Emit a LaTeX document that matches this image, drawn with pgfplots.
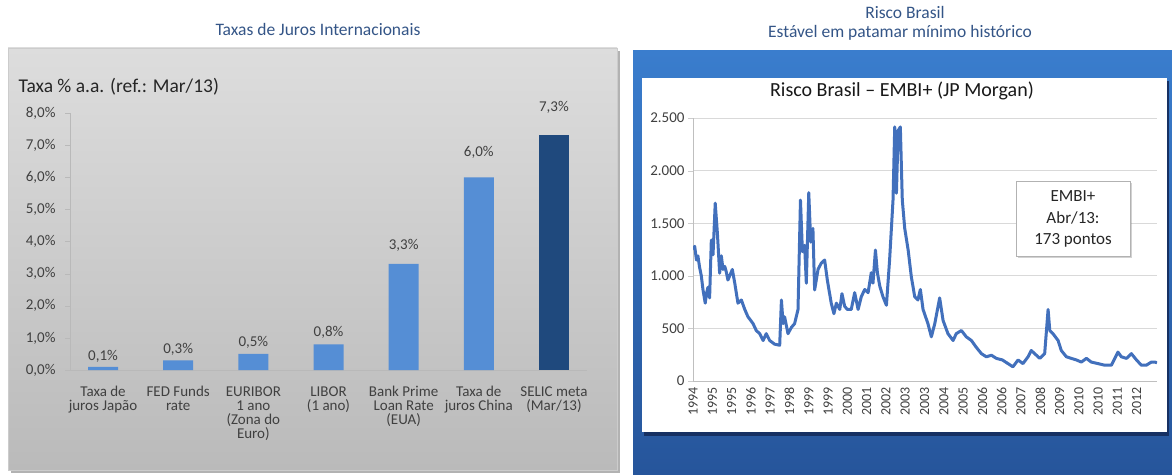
\documentclass[border=0pt]{standalone}
\usepackage{pgfplots}
\pgfplotsset{compat=1.18}
\usepackage{fontspec}
\setmainfont{Carlito}
\usetikzlibrary{shadows}
\definecolor{titleblue}{RGB}{52,85,135}
\definecolor{barblue}{RGB}{85,142,213}
\definecolor{selic}{RGB}{31,73,125}
\definecolor{lineblue}{RGB}{66,112,188}
\definecolor{frametop}{RGB}{58,125,205}
\definecolor{framebot}{RGB}{38,85,155}
\definecolor{frameshadow}{RGB}{22,48,98}
\definecolor{txtgray}{RGB}{64,64,64}
\definecolor{paneltop}{RGB}{221,221,221}
\definecolor{panelbot}{RGB}{186,186,186}
\pgfplotsset{/pgf/number format/assume math mode=true}
\begin{document}
\begin{tikzpicture}
\useasboundingbox (0pt,0pt) rectangle (1172pt,474pt);
\fill[white] (0pt,0pt) rectangle (1172pt,474pt);
% ---- titles
\node[font=\fontsize{17.5}{20}\selectfont, text=titleblue] at (318pt,445pt) {Taxas de Juros Internacionais};
\node[font=\fontsize{17.5}{20}\selectfont, text=titleblue] at (905pt,462pt) {Risco Brasil};
\node[font=\fontsize{17.5}{20}\selectfont, text=titleblue] at (900pt,441pt) {Estável em patamar mínimo histórico};
% ---- left panel
\fill[gray!60] (11pt,1pt) rectangle (620pt,423pt);
\shade[top color=paneltop, bottom color=panelbot] (8pt,4pt) rectangle (617pt,426pt);
\draw[gray!40] (8pt,4pt) rectangle (617pt,426pt);
\node[anchor=west, font=\fontsize{19.5}{22}\selectfont, text=black!85] at (15pt,387pt) {Taxa \% a.a. (ref.: Mar/13)};
% ---- right panel
\shade[top color=frametop, bottom color=framebot] (633pt,0pt) rectangle (1172pt,423pt);
\fill[frameshadow] (644pt,38pt) rectangle (1169pt,393pt);
\fill[white] (642pt,42pt) rectangle (1167pt,396pt);
\node[font=\fontsize{20}{22}\selectfont, text=black!90] at (902pt,383pt) {Risco Brasil – EMBI+ (JP Morgan)};

% ---- bar chart
\begin{axis}[
  at={(70pt,104pt)}, anchor=south west, scale only axis,
  width=517pt, height=257pt,
  xmin=-0.44, xmax=6.44, ymin=0, ymax=8,
  axis x line=bottom, axis y line=left,
  axis line style={-, draw=gray!55},
  every outer x axis line/.append style={-},
  every outer y axis line/.append style={-},
  ytick={0,1,...,8},
  yticklabel={\pgfmathprintnumber[fixed,fixed zerofill,precision=1,use comma]{\tick}\%},
  yticklabel style={font=\fontsize{15}{16}\selectfont, text=txtgray, xshift=-6pt},
  ytick align=outside, ytick style={draw=gray!55},
  major tick length=5pt,
  xtick={0,...,6},
  xtick style={draw=none},
  xticklabels={{Taxa de\\juros Japão},{FED Funds\\rate},{EURIBOR\\1 ano\\(Zona do\\Euro)},{LIBOR\\(1 ano)},{Bank Prime\\Loan Rate\\(EUA)},{Taxa de\\juros China},{SELIC meta\\(Mar/13)}},
  xticklabel style={align=center, anchor=north, font=\fontsize{15}{14}\selectfont, text=txtgray, yshift=-8pt},
  ybar, bar width=30pt,
  nodes near coords={\pgfmathprintnumber[fixed,fixed zerofill,precision=1,use comma]{\pgfplotspointmeta}\%},
  visualization depends on={y \as \rawy},
  nodes near coords style={anchor=center, yshift={(10+2.5*\rawy)*1pt}, font=\fontsize{15}{16}\selectfont, text=txtgray},
]
\addplot[fill=barblue, draw=none, bar shift=0pt] coordinates {(0,0.1) (1,0.3) (2,0.5) (3,0.8) (4,3.3) (5,6.0)};
\addplot[fill=selic, draw=none, bar shift=0pt] coordinates {(6,7.3)};
\end{axis}

% ---- line chart
\begin{axis}[
  at={(693pt,93pt)}, anchor=south west, scale only axis,
  width=464pt, height=263pt,
  xmin=1994.3, xmax=2013.3, ymin=0, ymax=2500,
  axis x line=bottom, axis y line=left,
  axis line style={-, draw=gray!50},
  every outer x axis line/.append style={-},
  every outer y axis line/.append style={-},
  ytick={0,500,1000,1500,2000,2500},
  scaled y ticks=false, scaled x ticks=false,
  yticklabel style={/pgf/number format/1000 sep={.}, font=\fontsize{15}{16}\selectfont, text=txtgray},
  ytick align=outside, ytick style={draw=gray!40}, major tick length=5pt,
  ymajorgrids, grid style={draw=gray!30, line width=0.8pt},
  xtick={1994.30,1995.09,1995.88,1996.67,1997.46,1998.25,1999.04,1999.83,2000.62,2001.41,2002.20,2002.99,2003.78,2004.57,2005.36,2006.15,2006.94,2007.73,2008.52,2009.31,2010.10,2010.89,2011.68,2012.47},
  xticklabels={1994,1995,1995,1996,1997,1998,1999,1999,2000,2001,2002,2003,2003,2004,2005,2006,2006,2007,2008,2009,2010,2010,2011,2012},
  xtick style={draw=none},
  xticklabel style={rotate=90, anchor=east, font=\fontsize{14}{15}\selectfont, text=txtgray},
]
\addplot[lineblue, line width=3pt, line join=round] coordinates {
(1994.30,1250) (1994.37,1280) (1994.44,1150) (1994.50,1190) (1994.57,1080) (1994.64,1000) (1994.71,865) (1994.80,740) (1994.86,840) (1994.91,890) (1994.98,790)
(1995.05,1340) (1995.12,1200) (1995.21,1690) (1995.30,1400) (1995.39,1025) (1995.46,1190) (1995.53,1060) (1995.60,1090) (1995.66,1040) (1995.73,960) (1995.82,1010) (1995.91,1060) (1996.01,930)
(1996.14,740) (1996.28,770) (1996.42,680) (1996.55,610) (1996.65,580) (1996.76,545) (1996.89,480) (1997.03,450) (1997.17,385) (1997.30,450) (1997.44,385) (1997.64,350) (1997.85,340)
(1997.92,770) (1997.99,545) (1998.05,610) (1998.19,450) (1998.33,510) (1998.46,545) (1998.60,680) (1998.70,1720) (1998.78,1230) (1998.87,1290) (1998.94,930)
(1999.04,1790) (1999.12,1320) (1999.21,1450) (1999.28,865) (1999.42,1060) (1999.55,1120) (1999.69,1150) (1999.80,960) (1999.96,740) (2000.07,640) (2000.17,740) (2000.31,680) (2000.40,830) (2000.51,710) (2000.62,680)
(2000.78,680) (2000.85,760) (2000.92,840) (2001.06,680) (2001.19,800) (2001.33,870) (2001.47,840) (2001.60,1030) (2001.67,930) (2001.77,1245) (2001.85,1030) (2001.95,900)
(2002.08,800) (2002.22,720) (2002.35,1150) (2002.49,1720) (2002.56,2415) (2002.63,1785) (2002.70,2380) (2002.79,2415) (2002.87,1720) (2002.97,1450)
(2003.11,1245) (2003.24,990) (2003.38,800) (2003.51,770) (2003.61,870) (2003.72,680) (2003.92,545) (2004.06,420) (2004.20,545) (2004.40,790) (2004.54,575) (2004.74,450) (2004.95,385)
(2005.08,450) (2005.29,480) (2005.49,420) (2005.70,385) (2005.90,320) (2006.11,260) (2006.31,230) (2006.52,245) (2006.72,215) (2006.97,200)
(2007.20,165) (2007.40,135) (2007.61,200) (2007.81,165) (2008.02,230) (2008.15,290) (2008.29,260) (2008.50,215) (2008.70,260) (2008.84,680) (2008.91,480)
(2009.04,450) (2009.25,385) (2009.38,290) (2009.59,230) (2009.79,215) (2010.00,200) (2010.20,180) (2010.41,215) (2010.61,180) (2010.89,165)
(2011.16,150) (2011.43,150) (2011.70,275) (2011.84,230) (2012.05,215) (2012.25,260) (2012.46,200) (2012.66,150) (2012.86,150) (2013.07,180) (2013.21,180) (2013.30,173)
};
\end{axis}
\node[draw=gray!60, fill=white, drop shadow={shadow xshift=2pt, shadow yshift=-2pt, opacity=0.35}, align=center, font=\fontsize{17}{21.5}\selectfont, text=black!85, minimum width=114pt, minimum height=75pt] at (1073pt,255pt) {EMBI+\\Abr/13:\\173 pontos};
\end{tikzpicture}
\end{document}
